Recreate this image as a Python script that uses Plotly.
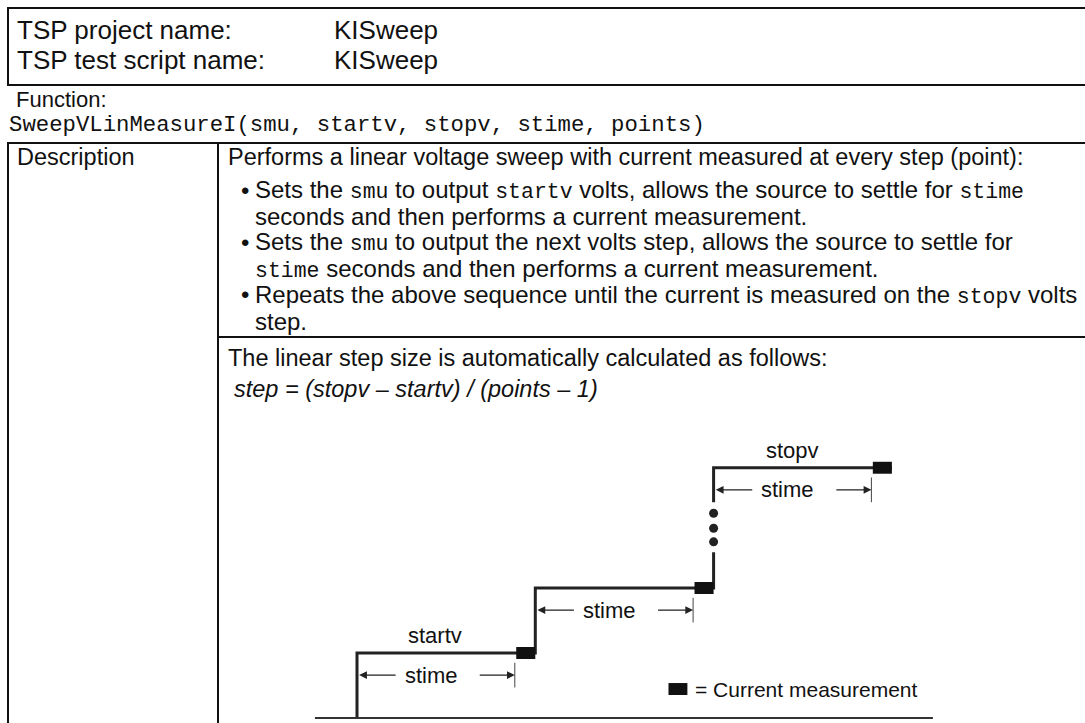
import plotly.graph_objects as go

# ---------------- data ----------------
header_labels = ["TSP project name:", "TSP test script name:"]
header_values = ["KISweep", "KISweep"]
function_label = "Function:"
function_sig = "SweepVLinMeasureI(smu, startv, stopv, stime, points)"
desc_label = "Description"
desc_intro = "Performs a linear voltage sweep with current measured at every step (point):"
M = '<span style="font-family:\'Liberation Mono\', monospace; font-size:21.5px">{}</span>'
bullet_lines = [
    ("•", "Sets the " + M.format("smu") + " to output " + M.format("startv") +
     " volts, allows the source to settle for " + M.format("stime")),
    ("", "seconds and then performs a current measurement."),
    ("•", "Sets the " + M.format("smu") + " to output the next volts step, allows the source to settle for"),
    ("", M.format("stime") + " seconds and then performs a current measurement."),
    ("•", "Repeats the above sequence until the current is measured on the " + M.format("stopv") + " volts"),
    ("", "step."),
]
step_intro = "The linear step size is automatically calculated as follows:"
step_formula = "<i>step = (stopv – startv) / (points – 1)</i>"

# staircase diagram (time in stime units, voltage in step units)
step_starts = [0.0, 1.0, 2.0]
step_levels = [1.0, 2.0, 3.85]
stime_width = 1.0
level_labels = ["startv", "", "stopv"]
gap_v = [2.55, 3.32]
dots_v = [2.71, 2.92, 3.15]
baseline_t = [-0.236, 3.23]
dim_label = "stime"
legend_label = "= Current measurement"
legend_pos = (1.80, 0.446)

# ---------------- figure ----------------
W, H = 1085, 723
fig = go.Figure()
SANS = "Liberation Sans, Arial, sans-serif"
MONO = "Liberation Mono, Courier New, monospace"
BLACK = "#111111"
BODY = 23.5

# staircase line
sx, sy = [step_starts[0], step_starts[0]], [0, step_levels[0]]
for i, (t, v) in enumerate(zip(step_starts, step_levels)):
    if i > 0:
        prev = step_levels[i - 1]
        if v - prev > 1.5:
            sx += [t, t, None, t, t]
            sy += [prev, gap_v[0], None, gap_v[1], v]
        else:
            sx += [t, t]
            sy += [prev, v]
    sx.append(t + stime_width)
    sy.append(v)
fig.add_trace(go.Scatter(x=sx, y=sy, mode="lines", xaxis="x2", yaxis="y2",
                         line=dict(color="#222222", width=3), hoverinfo="skip"))
# ellipsis dots
fig.add_trace(go.Scatter(x=[step_starts[-1]] * len(dots_v), y=dots_v, mode="markers",
                         xaxis="x2", yaxis="y2",
                         marker=dict(color="#222222", size=9), hoverinfo="skip"))
# baseline
fig.add_trace(go.Scatter(x=baseline_t, y=[0, 0], mode="lines", xaxis="x2", yaxis="y2",
                         line=dict(color="#333333", width=2), hoverinfo="skip"))

shapes = []
annotations = []

# table frame (pixel axes)
def hline(y, x0, x1, w=2):
    shapes.append(dict(type="line", xref="x", yref="y", x0=x0, x1=x1, y0=y, y1=y,
                       line=dict(color=BLACK, width=w)))

def vline(x, y0, y1, w=2):
    shapes.append(dict(type="line", xref="x", yref="y", x0=x, x1=x, y0=y0, y1=y1,
                       line=dict(color=BLACK, width=w)))

hline(8, 7, W)
hline(85, 7, W)
hline(143, 7, W)
hline(337, 218, W)
vline(8, 7, 85)
vline(8, 143, H)
vline(218, 143, H)

def txt(x, y, s, size=BODY, font=SANS):
    annotations.append(dict(xref="x", yref="y", x=x, y=y, text=s, showarrow=False,
                            xanchor="left", yanchor="middle", borderpad=0,
                            font=dict(family=font, size=size, color=BLACK)))

for i, (lab, val) in enumerate(zip(header_labels, header_values)):
    y = 30 + 30 * i
    txt(16, y, lab, 26)
    txt(333, y, val, 26)
txt(15, 99.5, function_label, 22)
txt(8, 124.5, function_sig, 22.3, MONO)
txt(16, 157, desc_label)
txt(227, 157, desc_intro)
bullet_y = [190, 216.2, 242.4, 268.6, 294.8, 321]
for (b, s), y in zip(bullet_lines, bullet_y):
    if b:
        txt(240, y, b, 24)
    txt(254, y, s, 24)
txt(227, 358, step_intro)
txt(233, 389, step_formula)

# diagram: measurement boxes, labels, dimension arrows
box_w, box_h = 0.107, 0.092
dim_off, tick_h = 0.34, 0.19
for t, v, lab in zip(step_starts, step_levels, level_labels):
    te = t + stime_width
    shapes.append(dict(type="rect", xref="x2", yref="y2", x0=te - box_w, x1=te,
                       y0=v - box_h, y1=v + box_h, fillcolor="#111111",
                       line=dict(width=0)))
    if lab:
        annotations.append(dict(xref="x2", yref="y2", x=t + 0.44 * stime_width,
                                y=v + 0.27, text=lab, showarrow=False, borderpad=0,
                                font=dict(family=SANS, size=22, color=BLACK)))
    ya = v - dim_off
    annotations.append(dict(xref="x2", yref="y2", x=t + 0.416 * stime_width, y=ya,
                            text=dim_label, showarrow=False, borderpad=0,
                            font=dict(family=SANS, size=22, color=BLACK)))
    # left arrow
    annotations.append(dict(xref="x2", yref="y2", axref="x2", ayref="y2",
                            x=t + 0.012, y=ya, ax=t + 0.225 * stime_width, ay=ya,
                            text="", showarrow=True, arrowhead=2, arrowsize=1.2,
                            arrowwidth=1.3, arrowcolor="#222222", standoff=0))
    # right arrow
    tick_t = te - box_w - 0.008
    annotations.append(dict(xref="x2", yref="y2", axref="x2", ayref="y2",
                            x=tick_t, y=ya, ax=t + 0.68 * stime_width, ay=ya,
                            text="", showarrow=True, arrowhead=2, arrowsize=1.2,
                            arrowwidth=1.3, arrowcolor="#222222", standoff=0))
    shapes.append(dict(type="line", xref="x2", yref="y2", x0=tick_t, x1=tick_t,
                       y0=ya - tick_h, y1=ya + tick_h,
                       line=dict(color="#444444", width=1)))

# legend
lx, ly = legend_pos
shapes.append(dict(type="rect", xref="x2", yref="y2", x0=lx - 0.053, x1=lx + 0.053,
                   y0=ly - box_h, y1=ly + box_h, fillcolor="#111111", line=dict(width=0)))
annotations.append(dict(xref="x2", yref="y2", x=lx + 0.09, y=ly, text=legend_label,
                        showarrow=False, xanchor="left", yanchor="middle", borderpad=0,
                        font=dict(family=SANS, size=21, color=BLACK)))

# diagram scale: t=0 at px 357, 1 stime = 178.3 px; v=0 at px 718, 1 unit = 65 px
px_t0, px_per_t = 357.0, 178.3
px_v0, px_per_v = 718.0, 65.0
x2_range = [-px_t0 / px_per_t, (W - px_t0) / px_per_t]
y2_range = [-(H - px_v0) / px_per_v, px_v0 / px_per_v]

hidden = dict(visible=False, showgrid=False, zeroline=False, fixedrange=True)
fig.update_layout(
    width=W, height=H, margin=dict(l=0, r=0, t=0, b=0),
    paper_bgcolor="white", plot_bgcolor="white", showlegend=False,
    xaxis=dict(range=[0, W], domain=[0, 1], **hidden),
    yaxis=dict(range=[H, 0], domain=[0, 1], **hidden),
    xaxis2=dict(range=x2_range, domain=[0, 1], overlaying="x", **hidden),
    yaxis2=dict(range=y2_range, domain=[0, 1], overlaying="y", **hidden),
    shapes=shapes, annotations=annotations,
)
fig.write_html(
    "out.html",
    config={"displayModeBar": False, "staticPlot": True},
    post_script="document.body.style.margin='0px';document.body.style.overflow='hidden';",
)
